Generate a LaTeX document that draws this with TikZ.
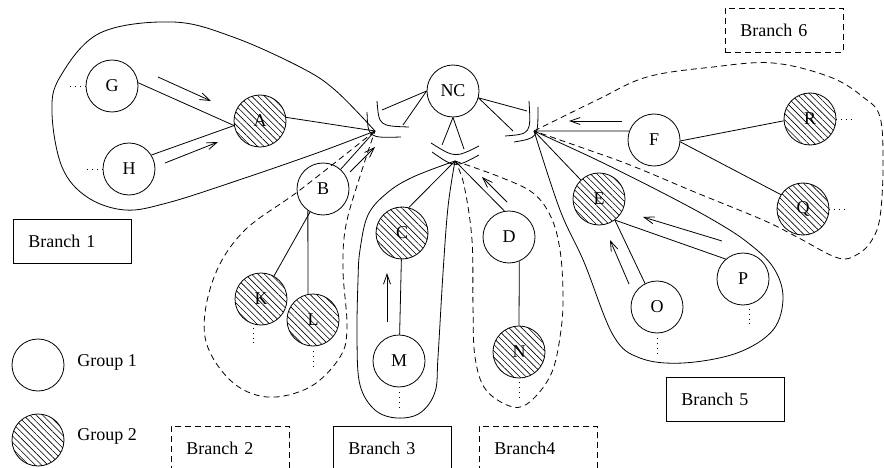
\documentclass[tikz,border=0pt]{standalone}
\usepackage{fontspec}
\setmainfont{Liberation Serif}
\usetikzlibrary{arrows.meta,patterns.meta}
\begin{document}
\begin{tikzpicture}[x=1pt,y=-1pt,line width=0.8pt,
  nd/.style={circle,draw,minimum size=52pt,inner sep=0pt,font=\fontsize{18}{20}\selectfont},
  hat/.style={nd,pattern={Lines[angle=-45,distance=4.5pt,line width=0.6pt]}},
  arr/.style={-{Straight Barb[length=10pt,width=7pt]}},
  dsh/.style={dash pattern=on 6pt off 4pt},
  dts/.style={dash pattern=on 0.8pt off 4pt},
  lp/.style={smooth,tension=0.6},
  bx/.style={draw,anchor=north west,text width=88pt,inner xsep=15pt,inner ysep=0pt,minimum height=44pt,align=left,font=\fontsize{18}{20}\selectfont},
  lbl/.style={anchor=west,inner sep=0pt,font=\fontsize{18}{20}\selectfont}]
\useasboundingbox (0,0) rectangle (884,468);
\clip (0,0) rectangle (884,468);

% junction points
\coordinate (P1) at (375,131);
\coordinate (P2) at (455,161);
\coordinate (P3) at (534,131);
\coordinate (La) at (382,110);
\coordinate (Lb) at (403,125);
\coordinate (Ca) at (442,145);
\coordinate (Cb) at (464,149);
\coordinate (Ra) at (527,111);
\coordinate (Rb) at (513,131);

% loops
\draw plot[lp] coordinates {(P1) (335,90) (300,67) (233,37) (173,22) (100,33) (60,77) (52,113) (62,167) (87,197) (125,210) (167,203) (233,182) (317,153) (P1)};
\draw[dsh] plot[lp] coordinates {(P1) (300,190) (243,232) (213,280) (205,337) (230,380) (267,397) (310,387) (340,357) (347,327) (343,270) (346,225) (362,170) (P1)};
\draw plot[lp] coordinates {(P2) (413,177) (387,193) (368,215) (360,250) (358,280) (357,340) (360,385) (375,410) (397,418) (420,413) (435,392) (438,357) (443,273) (448,207) (P2)};
\draw[dsh] plot[lp] coordinates {(P2) (500,177) (533,193) (551,217) (560,250) (563,293) (561,330) (552,372) (532,400) (513,407) (486,390) (475,357) (473,307) (472,240) (464,185) (P2)};
\draw plot[lp] coordinates {(P3) (560,210) (584,262) (613,335) (640,358) (683,363) (737,353) (773,330) (783,297) (773,267) (747,242) (713,220) (663,193) (597,160) (P3)};
\draw[dsh] plot[lp] coordinates {(P3) (597,100) (647,77) (713,67) (773,63) (830,77) (863,97) (880,117) (883,167) (880,217) (872,240) (858,254) (838,258) (797,237) (763,220) (697,193) (630,165) (580,147) (P3)};

% junction arcs
\draw (377,101) .. controls (379,126) .. (409,127);
\draw (367,112) .. controls (368,138) .. (401,137);
\draw (431,143) .. controls (455,158) .. (479,146);
\draw (432,152) .. controls (455,168) .. (479,155);
\draw (529,101) .. controls (531,134) .. (505,136);
\draw (538,107) .. controls (538,138) .. (514,142);

% nodes
\node[nd]  (NC) at (453,91)  {NC};
\node[nd]  (G)  at (112,86)  {G};
\node[hat] (A)  at (260,121) {A};
\node[nd]  (H)  at (129,169) {H};
\node[nd]  (B)  at (323,189) {B};
\node[hat] (K)  at (261,299) {K};
\node[hat] (L)  at (313,320) {L};
\node[hat] (C)  at (402,233) {C};
\node[nd]  (M)  at (399,361) {M};
\node[nd]  (D)  at (509,237) {D};
\node[hat] (N)  at (519,352) {N};
\node[nd]  (F)  at (654,140) {F};
\node[hat] (R)  at (810,119) {R};
\node[hat] (Q)  at (803,209) {Q};
\node[hat] (E)  at (599,199) {E};
\node[nd]  (O)  at (657,307) {O};
\node[nd]  (P)  at (743,279) {P};
\node[nd]  (lg1) at (38,365) {};
\node[hat] (lg2) at (38,440) {};
\node[lbl] (t1) at (77,362) {Group 1};
\node[lbl] (t2) at (77,436) {Group 2};

% boxes
\node[bx] (b1) at (13,219) {Branch 1};
\node[bx,dsh] (b2) at (171,426) {Branch 2};
\node[bx] (b3) at (333,426) {Branch 3};
\node[bx,dsh] (b4) at (479,426) {Branch4};
\node[bx] (b5) at (666,377) {Branch 5};
\node[bx,dsh] (b6) at (725,8) {Branch 6};

% NC links
\draw (NC.west) -- (La);
\draw (NC.west) -- (Lb);
\draw (NC.south) -- (Ca);
\draw (NC.south) -- (Cb);
\draw (NC.345) -- (Ra);
\draw (NC.345) -- (Rb);

% edges
\draw (G.7) -- (A.190);
\draw (H.32) -- (A.190);
\draw (A.8) -- (P1);
\draw (B) -- (P1);
\draw (B) -- (K);
\draw (B.235) -- (L.101);
\draw (C.75) -- (P2);
\draw (C) -- (M);
\draw (D.100) -- (P2);
\draw (D.293) -- (N.north);
\draw (E) -- (P3);
\draw (E.307) -- (O.117);
\draw (E.307) -- (P.131);
\draw (F.160) -- (P3);
\draw (F.358) -- (R.184);
\draw (F.356) -- (Q.147);

% arrows
\coordinate (a1s) at (158,77);  \coordinate (a1e) at (211,101);
\coordinate (a2s) at (165,163); \coordinate (a2e) at (218,142);
\coordinate (a3s) at (350,172); \coordinate (a3e) at (375,147);
\coordinate (a4s) at (387,322); \coordinate (a4e) at (387,273);
\coordinate (a5s) at (507,202); \coordinate (a5e) at (482,177);
\coordinate (a6s) at (622,121); \coordinate (a6e) at (569,121);
\coordinate (a7s) at (629,284); \coordinate (a7e) at (610,240);
\coordinate (a8s) at (722,241); \coordinate (a8e) at (643,217);
\foreach \i in {1,...,8} {\draw[arr] (a\i s) -- (a\i e);}

% dotted continuations
\draw[dts] (G.west) -- ++(-17,0);
\draw[dts] (H.west) -- ++(-17,0);
\draw[dts] (R.east) -- ++(17,0);
\draw[dts] (Q.east) -- ++(17,0);
\draw[dts] (253,328) -- (253,345);
\draw[dts] (L.south) ++(0,5) -- ++(0,17);
\draw[dts] (M.south) ++(0,5) -- ++(0,15);
\draw[dts] (N.south) ++(0,4) -- ++(0,16);
\draw[dts] (O.south) ++(0,5) -- ++(0,15);
\draw[dts] (749,309) -- (749,324);
\end{tikzpicture}
\end{document}
